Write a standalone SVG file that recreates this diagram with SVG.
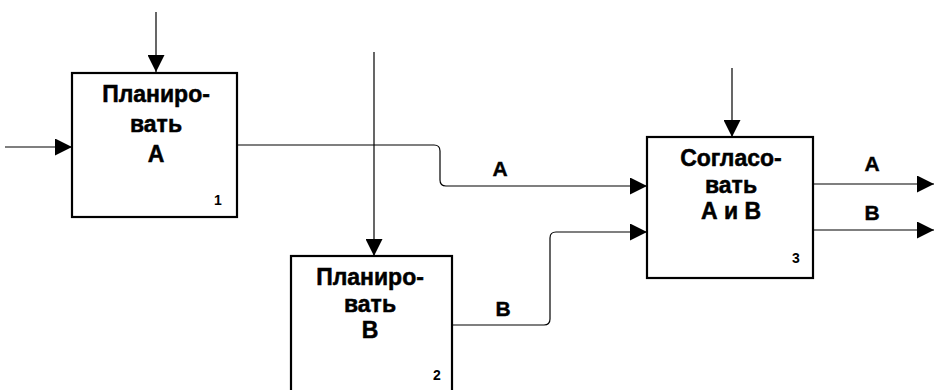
<svg xmlns="http://www.w3.org/2000/svg" width="934" height="390" viewBox="0 0 934 390">
<defs>
<marker id="arr" viewBox="0 0 17 17" refX="17" refY="8.5" markerWidth="17" markerHeight="17" markerUnits="userSpaceOnUse" orient="auto">
<path d="M0,0 L17,8.5 L0,17 Z" fill="#000"/>
</marker>
<style>
.box{fill:#fff;stroke:#000;stroke-width:2.2}
.ln{fill:none;stroke:#000;stroke-width:1.2;marker-end:url(#arr)}
.t{font-family:"Liberation Sans",Arial,sans-serif;font-weight:bold;font-size:23px;text-anchor:middle;fill:#000;stroke:#000;stroke-width:0.5}
.n{font-family:"Liberation Sans",Arial,sans-serif;font-weight:bold;font-size:14px;text-anchor:middle;fill:#000}
.lb{font-family:"Liberation Sans",Arial,sans-serif;font-weight:bold;font-size:21px;text-anchor:middle;fill:#000;stroke:#000;stroke-width:0.4}
</style>
</defs>
<rect width="934" height="390" fill="#fff"/>
<g id="connectors">
<path class="ln" d="M156,12 V72"/>
<path class="ln" d="M5,147 H72"/>
<path class="ln" d="M238,145 H434 Q440,145 440,151 V180 Q440,186 446,186 H647"/>
<path class="ln" d="M374,52 V256"/>
<path class="ln" d="M453,325 H544 Q550,325 550,319 V238 Q550,232 556,232 H647"/>
<path class="ln" d="M732,68 V137"/>
<path class="ln" d="M814,184 H934"/>
<path class="ln" d="M814,230 H934"/>
<text class="lb" x="500" y="176">A</text>
<text class="lb" x="503" y="316">B</text>
<text class="lb" x="872" y="171">A</text>
<text class="lb" x="872" y="220">B</text>
</g>
<g id="node1">
<rect class="box" x="72" y="73" width="165" height="144"/>
<text class="t" x="156" y="102">Планиро-</text>
<text class="t" x="156" y="132">вать</text>
<text class="t" x="156" y="162">А</text>
<text class="n" x="218" y="205">1</text>
</g>
<g id="node2">
<rect class="box" x="291" y="256" width="161" height="150"/>
<text class="t" x="370" y="285">Планиро-</text>
<text class="t" x="370" y="312">вать</text>
<text class="t" x="370" y="338">В</text>
<text class="n" x="437" y="380">2</text>
</g>
<g id="node3">
<rect class="box" x="647" y="137" width="166" height="141"/>
<text class="t" x="731" y="166">Согласо-</text>
<text class="t" x="731" y="193">вать</text>
<text class="t" x="731" y="219">А и В</text>
<text class="n" x="796" y="263">3</text>
</g>
</svg>
